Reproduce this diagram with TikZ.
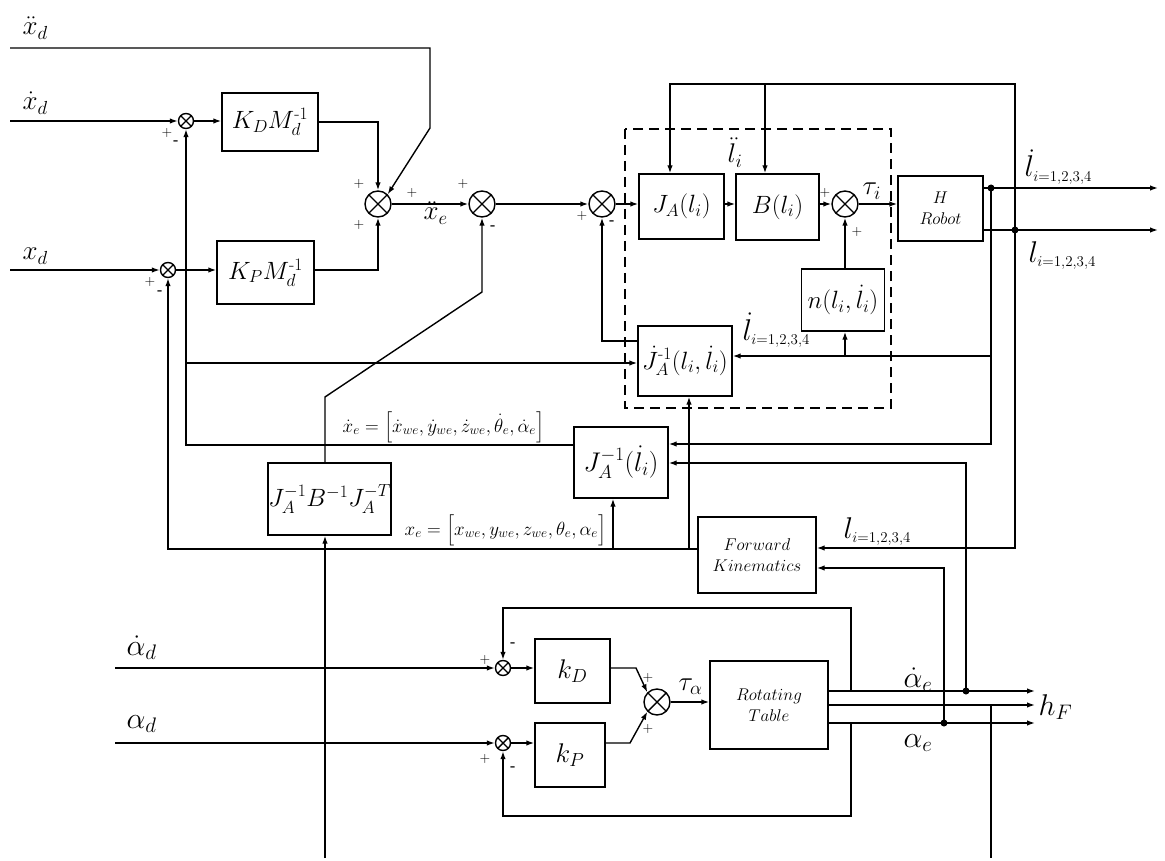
\RequirePackage{fix-cm}
\documentclass[tikz,border=0pt]{standalone}
\usepackage{amsmath}
\usetikzlibrary{arrows.meta,calc}
\newcommand\szbox{\fontsize{25}{28}\selectfont}
\newcommand\szlab{\fontsize{27}{30}\selectfont}
\newcommand\szal{\fontsize{30}{32}\selectfont}
\newcommand\szll{\fontsize{30}{32}\selectfont}
\newcommand\szeq{\fontsize{19}{22}\selectfont}
\newcommand\sztxt{\fontsize{17}{21}\selectfont}
\newcommand\szsign{\fontsize{14}{16}\selectfont}
\begin{document}
\begin{tikzpicture}[x=1pt,y=-1pt,line width=1.4pt,
  blk/.style={draw,line width=1.4pt,inner sep=0pt,font=\szbox},
  arr/.style={-{Latex[length=8pt,width=5.5pt]}},
  lab/.style={inner sep=0pt,anchor=base west},
  sgn/.style={inner sep=0pt,font=\szsign},
  dot/.style={circle,fill,inner sep=0pt,minimum size=7pt},
  sumc/.style={draw,circle,inner sep=0pt,line width=1.4pt,
    path picture={\draw[line width=1.4pt]
      (path picture bounding box.north west)--(path picture bounding box.south east)
      (path picture bounding box.north east)--(path picture bounding box.south west);}}]
\useasboundingbox (0,0) rectangle (1165,861);

% ---------- blocks ----------
\node[blk,minimum width=96pt,minimum height=58pt] (kd) at (270,122) {$K_{D}M_d^{\text{-}1}$};
\node[blk,minimum width=97pt,minimum height=63pt] (kp) at (265.5,272.5) {$K_{P}M_d^{\text{-}1}$};
\node[blk,minimum width=85pt,minimum height=65pt] (ja) at (681.5,206.5) {$J_A(l_i)$};
\node[blk,minimum width=83pt,minimum height=66pt] (bb) at (777.5,207) {$B(l_i)$};
\node[blk,minimum width=85pt,minimum height=65pt,font=\sztxt,align=center] (rob) at (940.5,208.5) {$H$\\$Robot$};
\node[blk,minimum width=83pt,minimum height=62pt] (nn) at (843,300) {$n(l_i,\dot l_i)$};
\node[blk,minimum width=94pt,minimum height=70pt] (jd) at (685,361) {$\dot J_A^{\text{-}1}(l_i,\dot l_i)$};
\node[blk,minimum width=94pt,minimum height=71pt,font=\fontsize{27}{30}\selectfont] (ji) at (621,462.5) {$J_A^{-1}(\dot l_i)$};
\node[blk,minimum width=123pt,minimum height=72pt] (jbj) at (329.5,499) {$J_A^{-1}B^{-1}J_A^{-T}$};
\node[blk,minimum width=118pt,minimum height=76pt,font=\sztxt,align=center] (fk) at (757,555) {$Forward$\\$Kinematics$};
\node[blk,minimum width=75pt,minimum height=64pt,font=\szlab] (kdd) at (572.5,671) {$k_D$};
\node[blk,minimum width=70pt,minimum height=64pt,font=\szlab] (kpp) at (570,755) {$k_P$};
\node[blk,minimum width=118pt,minimum height=88pt,font=\sztxt,align=center] (rt) at (769,705) {$Rotating$\\$Table$};

% ---------- summing junctions ----------
\node[sumc,minimum size=15pt] (c1) at (186,121) {};
\node[sumc,minimum size=15pt] (c2) at (168,270) {};
\node[sumc,minimum size=26pt] (s1) at (378,204) {};
\node[sumc,minimum size=26pt] (s2) at (482,204) {};
\node[sumc,minimum size=26pt] (s3) at (602,204) {};
\node[sumc,minimum size=26pt] (s4) at (845,204) {};
\node[sumc,minimum size=15pt] (c3) at (503,668) {};
\node[sumc,minimum size=15pt] (c4) at (503,743) {};
\node[sumc,minimum size=26pt] (s5) at (657,702) {};

% ---------- junction dots ----------
\node[dot] (d1) at (991,188) {};
\node[dot] (d2) at (1015,230) {};
\node[dot] (d3) at (966,691) {};
\node[dot] (d4) at (944,723) {};

% ---------- free ends ----------
\coordinate (in1) at (10,48);
\coordinate (in2) at (10,121);
\coordinate (in3) at (10,270);
\coordinate (in4) at (115,668);
\coordinate (in5) at (115,743);
\coordinate (inb) at (325,858);
\coordinate (outh) at (991,858);
\coordinate (o1) at (1158,188);
\coordinate (o2) at (1158,230);
\coordinate (o3) at (1035,691);
\coordinate (o4) at (1035,705);
\coordinate (o5) at (1035,723);

% ---------- dashed region ----------
\draw[dash pattern=on 10pt off 6pt] (625,129) rectangle (891,408);

% ---------- connectors (upper) ----------
\draw[arr] (in1) -- (430,48) -- (430,128) -- (s1.north east);
\draw[arr] (in2) -- (c1.west);
\draw[arr] (c1.east) -- (c1.east -| kd.west);
\draw[arr] (kd.east) -| (s1.north);
\draw[arr] (in3) -- (c2.west);
\draw[arr] (c2.east) -- (c2.east -| kp.west);
\draw[arr] (kp.east |- c2) -| (s1.south);
\draw[arr] (s1.east) -- (s2.west);
\draw[arr] (s2.east) -- (s3.west);
\draw[arr] (s3.east) -- (s3.east -| ja.west);
\draw[arr] (ja.east |- s3) -- (bb.west |- s3);
\draw[arr] (bb.east |- s4) -- (s4.west);
\draw[arr] (s4.east) -- (s4.east -| rob.west);
\draw[arr] (nn.north -| s4) -- (s4.south);
\draw[arr] (rob.east |- d1) -- (o1);
\draw[arr] (rob.east |- d2) -- (o2);
\draw[arr] (d2.center) -- (1015,84) -- (670,84) -- (670,0 |- ja.north);
\draw[arr] (765,84) -- (765,0 |- bb.north);
\draw[arr] (d2.center) -- (1015,548) -- (fk.east |- 0,548);
\draw[arr] (d1.center) -- (991,444) -- (ji.east |- 0,444);
\draw[arr] (991,356) -- (jd.east |- 0,356);
\draw[arr] (845,356) -- (845,0 |- nn.south);
\draw[arr] (ji.west |- 0,445) -- (186,445) -- (c1.south);
\draw[arr] (186,363) -- (jd.west |- 0,363);
\draw[arr] (jd.west |- 0,341) -- (602,341) -- (s3.south);
\draw[arr] (fk.west |- 0,549) -- (168,549) -- (c2.south);
\draw[arr] (613,549) -- (613,0 |- ji.south);
\draw[arr] (689,549) -- (689,0 |- jd.south);
\draw[arr] (inb) -- (325,0 |- jbj.south);
\draw[arr] (325,0 |- jbj.north) -- (325,397) -- (482,292) -- (s2.south);

% ---------- connectors (lower) ----------
\draw[arr] (in4) -- (c3.west);
\draw[arr] (in5) -- (c4.west);
\draw[arr] (c3.east) -- (c3.east -| kdd.west);
\draw[arr] (c4.east) -- (c4.east -| kpp.west);
\draw[arr] (kdd.east |- c3) -- (636,668) -- (s5.north west);
\draw[arr] (kpp.east |- c4) -- (630,743) -- (s5.south west);
\draw[arr] (s5.east) -- (s5.east -| rt.west);
\draw[arr] (rt.east |- d3) -- (o3);
\draw[arr] (rt.east |- o4) -- (o4);
\draw[arr] (rt.east |- d4) -- (o5);
\draw[arr] (d3.center) -- (966,463) -- (ji.east |- 0,463);
\draw[arr] (d4.center) -- (944,568) -- (fk.east |- 0,568);
\draw (991,705) -- (outh);
\draw[arr] (851,691) -- (851,608) -- (503,608) -- (c3.north);
\draw[arr] (851,723) -- (851,816) -- (503,816) -- (c4.south);

% ---------- labels ----------
\node[lab,font=\szlab] (lxdd) at (22,35) {$\ddot x_d$};
\node[lab,font=\szlab] (lxd) at (22,110) {$\dot x_d$};
\node[lab,font=\szlab] (lx) at (22,260) {$x_d$};
\node[lab,font=\szlab] (lxe) at (423,220) {$\ddot x_e$};
\node[lab,font=\szlab] (llddi) at (727,163) {$\ddot l_i$};
\node[lab,font=\szlab] (ltaui) at (862,195) {$\tau_i$};
\node[lab,font=\szll] (lo1) at (1024,177) {$\dot l_{\scriptscriptstyle i=1,2,3,4}$};
\node[lab,font=\szll] (lo2) at (1028,262) {$l_{\scriptscriptstyle i=1,2,3,4}$};
\node[lab,font=\szll] (lo3) at (742,340) {$\dot l_{\scriptscriptstyle i=1,2,3,4}$};
\node[lab,font=\szll] (lo4) at (843,538) {$l_{\scriptscriptstyle i=1,2,3,4}$};
\node[lab,font=\szeq] (lxe1) at (342,432) {$\dot x_e=\Big[\dot x_{we},\dot y_{we},\dot z_{we},\dot\theta_e,\dot\alpha_e\Big]$};
\node[lab,font=\szeq] (lxe2) at (404,535) {$x_e=\Big[x_{we},y_{we},z_{we},\theta_e,\alpha_e\Big]$};
\node[lab,font=\szal] (lad1) at (126,655) {$\dot\alpha_d$};
\node[lab,font=\szal] (lad2) at (126,728) {$\alpha_d$};
\node[lab,font=\szlab] (ltaua) at (678,690) {$\tau_\alpha$};
\node[lab,font=\szal] (lae1) at (903,687) {$\dot\alpha_e$};
\node[lab,font=\szal] (lae2) at (903,747) {$\alpha_e$};
\node[lab,font=\szal] (lhf) at (1038,715) {$h_F$};

% ---------- signs ----------
\node[sgn] at (167,133) {+};
\node[sgn] at (176,143) {\textbf{-}};
\node[sgn] at (150,282) {+};
\node[sgn] at (160,293) {\textbf{-}};
\node[sgn] at (359,184) {+};
\node[sgn] at (359,225) {+};
\node[sgn] at (412,193) {+};
\node[sgn] at (463,184) {+};
\node[sgn] at (493,228) {\textbf{-}};
\node[sgn] at (582,216) {+};
\node[sgn] at (612,223) {\textbf{-}};
\node[sgn] at (825,193) {+};
\node[sgn] at (857,232) {+};
\node[sgn] at (485,660) {+};
\node[sgn] at (513,645) {\textbf{-}};
\node[sgn] at (485,759) {+};
\node[sgn] at (513,769) {\textbf{-}};
\node[sgn] at (648,678) {+};
\node[sgn] at (648,729) {+};
\end{tikzpicture}
\end{document}
